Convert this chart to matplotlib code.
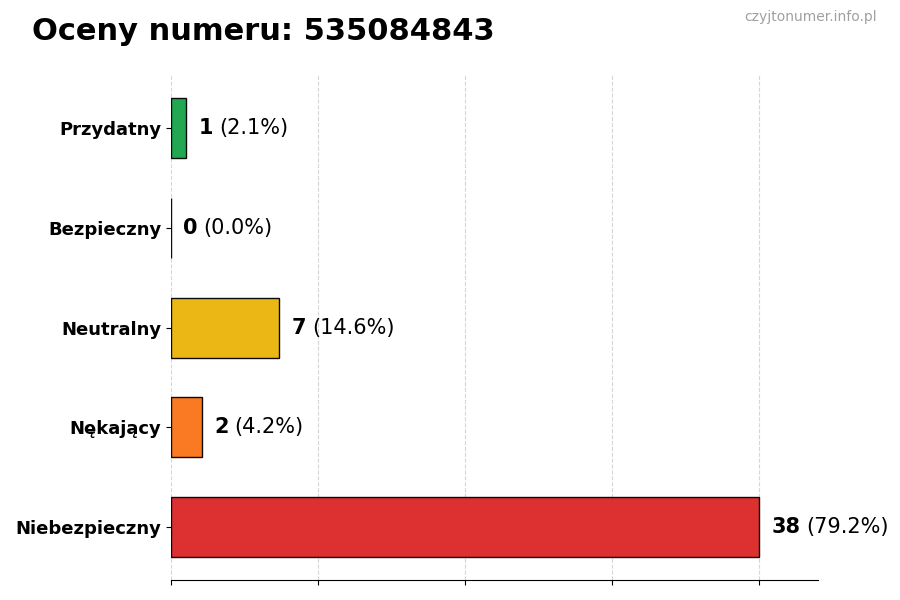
import matplotlib
matplotlib.use("Agg")
import matplotlib.pyplot as plt

categories = ["Niebezpieczny", "Nękający", "Neutralny", "Bezpieczny", "Przydatny"]
counts = [38, 2, 7, 0, 1]
colors = ["#dc2626", "#f97316", "#eab308", "#3b82f6", "#16a34a"]
phone = "535084843"

total = sum(counts)

fig = plt.figure(figsize=(9, 6), dpi=100)
ax = fig.add_axes([0.19, 0.033, 0.719, 0.842])

ypos = range(len(categories))
ax.barh(ypos, counts, height=0.6, color=colors, edgecolor="black", linewidth=1,
        alpha=0.95, zorder=2)
ax.set_yticks(list(ypos))
ax.set_yticklabels(categories, fontsize=13, fontweight="bold")

xmax = max(counts)
ax.set_xlim(0, xmax * 1.1)
ax.set_xticks([xmax * i / 4 for i in range(5)])
ax.set_xticklabels([])
ax.grid(axis="x", linestyle="--", color="#cccccc", linewidth=0.8, alpha=0.8, zorder=0)
ax.set_axisbelow(True)

for s in ["top", "right", "left"]:
    ax.spines[s].set_visible(False)

for y, c in zip(ypos, counts):
    pct = c / total * 100
    a = ax.annotate(str(c), xy=(c, y), xytext=(9, 0), textcoords="offset points",
                    va="center", ha="left", fontsize=15, fontweight="bold")
    ax.annotate("(%.1f%%)" % pct, xy=(1, 0.5), xycoords=a, xytext=(4, 0),
                textcoords="offset points", va="center", ha="left", fontsize=15)

fig.text(32 / 900, 1 - 31 / 600, "Oceny numeru: " + phone, fontsize=22,
         fontweight="bold", va="center", ha="left")
fig.text(877 / 900, 1 - 17 / 600, "czyjtonumer.info.pl", fontsize=10,
         color="#a0a0a0", va="center", ha="right")

fig.savefig("out.png", dpi=100)
